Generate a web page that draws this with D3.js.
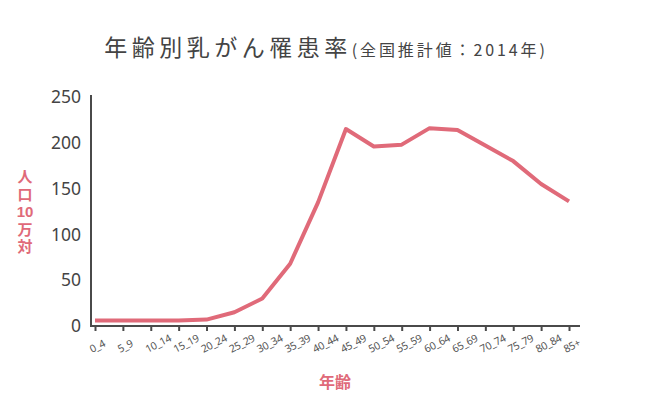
<!DOCTYPE html>
<html>
<head>
<meta charset="utf-8">
<script src="https://cdn.jsdelivr.net/npm/d3@7"></script>
<style>
  html, body { margin: 0; padding: 0; background: #fff; }
  svg { display: block; }
</style>
</head>
<body>
<svg id="chart" width="650" height="406"></svg>
<script>
const categories = ["0_4","5_9","10_14","15_19","20_24","25_29","30_34","35_39","40_44","45_49","50_54","55_59","60_64","65_69","70_74","75_79","80_84","85+"];
const incidence = [6, 6, 6, 6, 7, 15, 30, 68, 135, 215, 196, 198, 216, 214, 197, 180, 155, 136];
const yTicks = [0, 50, 100, 150, 200, 250];
const titleMain = "年齢別乳がん罹患率";
const titleSub = "(全国推計値：2014年)";
const yLabel = ["人", "口", "10", "万", "対"];
const xLabel = "年齢";

const svg = d3.select("#chart");
const axisColor = "#4a4a4a";
const red = "#e06a79";
const font = "'Noto Sans CJK JP', 'Noto Sans', sans-serif";

const x = d3.scalePoint().domain(categories).range([95, 569]);
const y = d3.scaleLinear().domain([0, 250]).range([326, 97]);

// title
const title = svg.append("text")
  .attr("x", 326).attr("y", 56)
  .attr("text-anchor", "middle")
  .attr("font-family", font)
  .attr("fill", "#444");
title.append("tspan").attr("font-size", 23).attr("letter-spacing", 4.5).text(titleMain);
title.append("tspan").attr("font-size", 16).attr("letter-spacing", 2.9).text(titleSub);

// y axis
const yAxis = svg.append("g")
  .attr("transform", "translate(91,0)")
  .call(d3.axisLeft(y).tickValues(yTicks).tickSize(0).tickPadding(10).tickSizeOuter(0));
yAxis.select(".domain").remove();
yAxis.selectAll("text")
  .attr("font-family", "'Noto Sans', sans-serif")
  .attr("font-size", 17.5)
  .attr("fill", "#444");
svg.append("line")
  .attr("x1", 91).attr("x2", 91)
  .attr("y1", 95).attr("y2", y(0) + 1)
  .attr("stroke", axisColor).attr("stroke-width", 2);

// x axis
const xAxis = svg.append("g")
  .attr("transform", `translate(0,${y(0)})`)
  .call(d3.axisBottom(x).tickSize(5).tickSizeOuter(0).tickFormat(""));
xAxis.select(".domain").remove();
xAxis.selectAll(".tick line").attr("stroke", axisColor).attr("stroke-width", 2);
svg.append("line")
  .attr("x1", 90).attr("x2", 580)
  .attr("y1", y(0)).attr("y2", y(0))
  .attr("stroke", axisColor).attr("stroke-width", 2);

svg.append("g").selectAll("text")
  .data(categories)
  .join("text")
  .attr("transform", d => `translate(${x(d) - 3},353) rotate(-27)`)
  .attr("text-anchor", "start")
  .attr("font-family", "'Noto Sans', sans-serif")
  .attr("font-size", 10.5)
  .attr("letter-spacing", -0.3)
  .attr("fill", "#555")
  .text(d => d);

// line
const line = d3.line()
  .x((d, i) => x(categories[i]))
  .y(d => y(d));
svg.append("path")
  .datum(incidence)
  .attr("d", line)
  .attr("fill", "none")
  .attr("stroke", red)
  .attr("stroke-width", 4)
  .attr("stroke-linejoin", "round");

// y label (vertical stack)
const yl = svg.append("g")
  .attr("font-family", "'Liberation Sans', 'Noto Sans CJK JP', sans-serif")
  .attr("font-size", 15)
  .attr("font-weight", "bold")
  .attr("fill", red)
  .attr("text-anchor", "middle");
yLabel.forEach((t, i) => {
  yl.append("text").attr("x", 25).attr("y", 182 + i * 17.5).text(t);
});

// x label
svg.append("text")
  .attr("x", 335).attr("y", 388)
  .attr("text-anchor", "middle")
  .attr("font-family", font)
  .attr("font-size", 16)
  .attr("font-weight", "bold")
  .attr("fill", red)
  .text(xLabel);
</script>
</body>
</html>
